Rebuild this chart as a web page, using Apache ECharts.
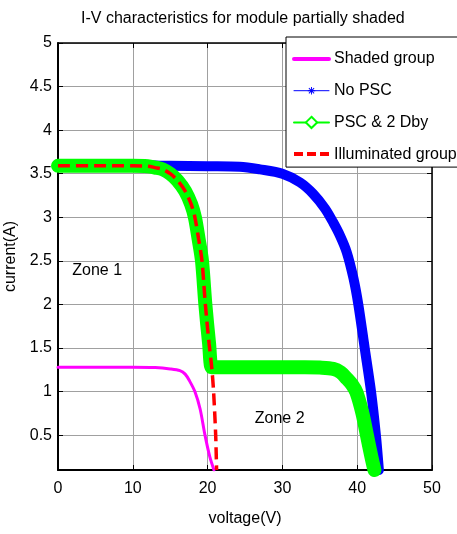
<!DOCTYPE html>
<html><head><meta charset="utf-8">
<script src="https://cdn.jsdelivr.net/npm/echarts@6/dist/echarts.min.js"></script>
<style>html,body{margin:0;padding:0;background:#fff}#c{width:457px;height:534px}</style>
</head><body><div id="c"></div>
<script>
// ---- text ----
const titleText = 'I-V characteristics for module partially shaded';
const xName = 'voltage(V)';
const yName = 'current(A)';
const seriesNames = ['Shaded group', 'No PSC', 'PSC & 2 Dby', 'Illuminated group'];
const zoneLabels = ['Zone 1', 'Zone 2'];

// ---- axes ----
const xMin = 0, xMax = 50, xStep = 10;
const yMin = 0.1, yMax = 5;

// ---- data (voltage V, current A) ----
const shadedV = [0, 5, 10, 13, 15, 16.3, 17, 17.6, 18.3, 19.0, 19.65, 20.3, 20.85];
const shadedI = [1.28, 1.28, 1.28, 1.275, 1.26, 1.24, 1.2, 1.12, 1.0, 0.8, 0.5, 0.25, 0.1];

const noPscV = [0, 5, 10, 15, 20, 24.3, 27, 30, 32.35, 34.1, 35.7, 36.8, 37.7, 38.6, 39.5, 40.15, 41.0, 41.85, 42.5, 42.9];
const noPscI = [3.6, 3.6, 3.6, 3.59, 3.585, 3.58, 3.55, 3.5, 3.4, 3.27, 3.1, 2.94, 2.79, 2.6, 2.3, 2.0, 1.5, 1.0, 0.5, 0.1];

const pscV = [0, 5, 10, 12, 13, 14, 15, 16, 17, 17.8, 18.3, 18.8, 19.25, 19.7, 20.2, 20.55, 21, 25, 30, 33, 35, 36.8, 37.8, 38.6, 39.3, 39.9, 40.7, 41.3, 41.9, 42.3];
const pscI = [3.59, 3.59, 3.59, 3.585, 3.57, 3.55, 3.5, 3.42, 3.3, 3.15, 3.0, 2.75, 2.5, 2.0, 1.55, 1.28, 1.28, 1.28, 1.28, 1.28, 1.275, 1.26, 1.22, 1.15, 1.08, 0.99, 0.75, 0.5, 0.25, 0.1];

const illumV = [0, 5, 10, 12, 13, 14, 15, 16, 17, 17.8, 18.3, 18.8, 19.25, 19.7, 20.2, 20.55, 20.8, 21.08, 21.2];
const illumI = [3.59, 3.59, 3.59, 3.585, 3.57, 3.55, 3.5, 3.42, 3.3, 3.15, 3.0, 2.75, 2.5, 2.0, 1.55, 1.28, 1.0, 0.5, 0.1];

// zone label anchor points in data coordinates
const zone1At = [1.9, 2.39];
const zone2At = [26.3, 0.69];

function pairs(v, i) { return v.map((x, k) => [x, i[k]]); }

const FONT = '"Liberation Sans", Arial, Helvetica, sans-serif';
const txt = { fontFamily: FONT, fontSize: 16, color: '#000' };
const starPath = 'path://M-12,-12 M12,12 M-1,-8 L1,-8 L1,8 L-1,8 Z M-8,-1 L8,-1 L8,1 L-8,1 Z M-4.9,-6.3 L6.3,4.9 L4.9,6.3 L-6.3,-4.9 Z M-4.9,6.3 L-6.3,4.9 L4.9,-6.3 L6.3,-4.9 Z';

const chart = echarts.init(document.getElementById('c'), null, { renderer: 'canvas' });

const axisCommon = {
  axisLine: { show: true, onZero: false, lineStyle: { color: '#000', width: 1.5 } },
  axisTick: { show: true, inside: true, length: 5, lineStyle: { color: '#000', width: 1 } }
};

const option = {
  animation: false,
  backgroundColor: '#fff',
  title: { text: titleText, left: 81, top: 11, padding: 0, textStyle: Object.assign({}, txt, { fontWeight: 'normal' }) },
  grid: { left: 58, right: 25, top: 43, bottom: 64, containLabel: false, outerBoundsMode: 'none' },
  xAxis: [
    Object.assign({}, axisCommon, {
      type: 'value', min: xMin, max: xMax, interval: xStep, position: 'bottom',
      name: xName, nameLocation: 'middle', nameGap: 41, nameTextStyle: txt,
      axisLine: { show: true, onZero: false, lineStyle: { color: '#000', width: 2 } },
      axisLabel: Object.assign({ margin: 11 }, txt),
      splitLine: { show: true, lineStyle: { color: '#a0a0a0', width: 1 } }
    }),
    Object.assign({}, axisCommon, {
      type: 'value', min: xMin, max: xMax, interval: xStep, position: 'top',
      axisLabel: { show: false }, splitLine: { show: false }
    })
  ],
  yAxis: [
    Object.assign({}, axisCommon, {
      type: 'value', min: yMin, max: yMax, splitNumber: 10, position: 'left',
      name: yName, nameLocation: 'middle', nameGap: 22, nameTextStyle: txt,
      axisLine: { show: true, onZero: false, lineStyle: { color: '#000', width: 2 } },
      axisLabel: Object.assign({ margin: 6, showMinLabel: false }, txt),
      splitLine: { show: true, lineStyle: { color: '#a0a0a0', width: 1 } }
    }),
    Object.assign({}, axisCommon, {
      type: 'value', min: yMin, max: yMax, splitNumber: 10, position: 'right',
      axisLabel: { show: false }, splitLine: { show: false }
    })
  ],
  legend: {
    orient: 'vertical', left: 286, top: 37, padding: [13, 14, 4, 6],
    itemWidth: 35, itemHeight: 14, itemGap: 13.7,
    backgroundColor: '#fff', borderColor: '#000', borderWidth: 1, borderRadius: 0,
    textStyle: Object.assign({ lineHeight: 18 }, txt),
    data: [
      { name: seriesNames[0], itemStyle: { color: 'rgba(0,0,0,0)', borderWidth: 0 }, lineStyle: { width: 4 } },
      { name: seriesNames[1], lineStyle: { width: 1 } },
      { name: seriesNames[2], lineStyle: { width: 2 } },
      { name: seriesNames[3], itemStyle: { color: 'rgba(0,0,0,0)', borderWidth: 0 }, lineStyle: { width: 4, type: [9, 4] } }
    ]
  },
  series: [
    { name: seriesNames[0], type: 'line', data: pairs(shadedV, shadedI), showSymbol: false, symbol: 'circle',
      smooth: 0.3,
      color: '#ff00ff', lineStyle: { color: '#ff00ff', width: 3, cap: 'round', join: 'round' } },
    { name: seriesNames[1], type: 'line', data: pairs(noPscV, noPscI), showSymbol: false, symbol: starPath,
      smooth: 0.3,
      color: '#0000ff', lineStyle: { color: '#0000ff', width: 10, cap: 'round', join: 'round' } },
    { name: seriesNames[2], type: 'line', data: pairs(pscV, pscI), showSymbol: false, symbol: 'emptyDiamond',
      smooth: 0.3,
      color: '#00ff00', lineStyle: { color: '#00ff00', width: 14, cap: 'round', join: 'round' } },
    { name: seriesNames[3], type: 'line', data: pairs(illumV, illumI), showSymbol: false, symbol: 'circle',
      smooth: 0.3,
      color: '#ff0000', lineStyle: { color: '#ff0000', width: 3.5, type: [12, 6] } }
  ]
};
chart.setOption(option);

// zone annotations placed at data coordinates
const p1 = chart.convertToPixel({ gridIndex: 0 }, zone1At);
const p2 = chart.convertToPixel({ gridIndex: 0 }, zone2At);
chart.setOption({
  graphic: [
    { type: 'text', x: p1[0], y: p1[1], style: { text: zoneLabels[0], fill: '#000', fontSize: 16, fontFamily: FONT, verticalAlign: 'middle', align: 'left' } },
    { type: 'text', x: p2[0], y: p2[1], style: { text: zoneLabels[1], fill: '#000', fontSize: 16, fontFamily: FONT, verticalAlign: 'middle', align: 'left' } }
  ]
});
</script></body></html>
